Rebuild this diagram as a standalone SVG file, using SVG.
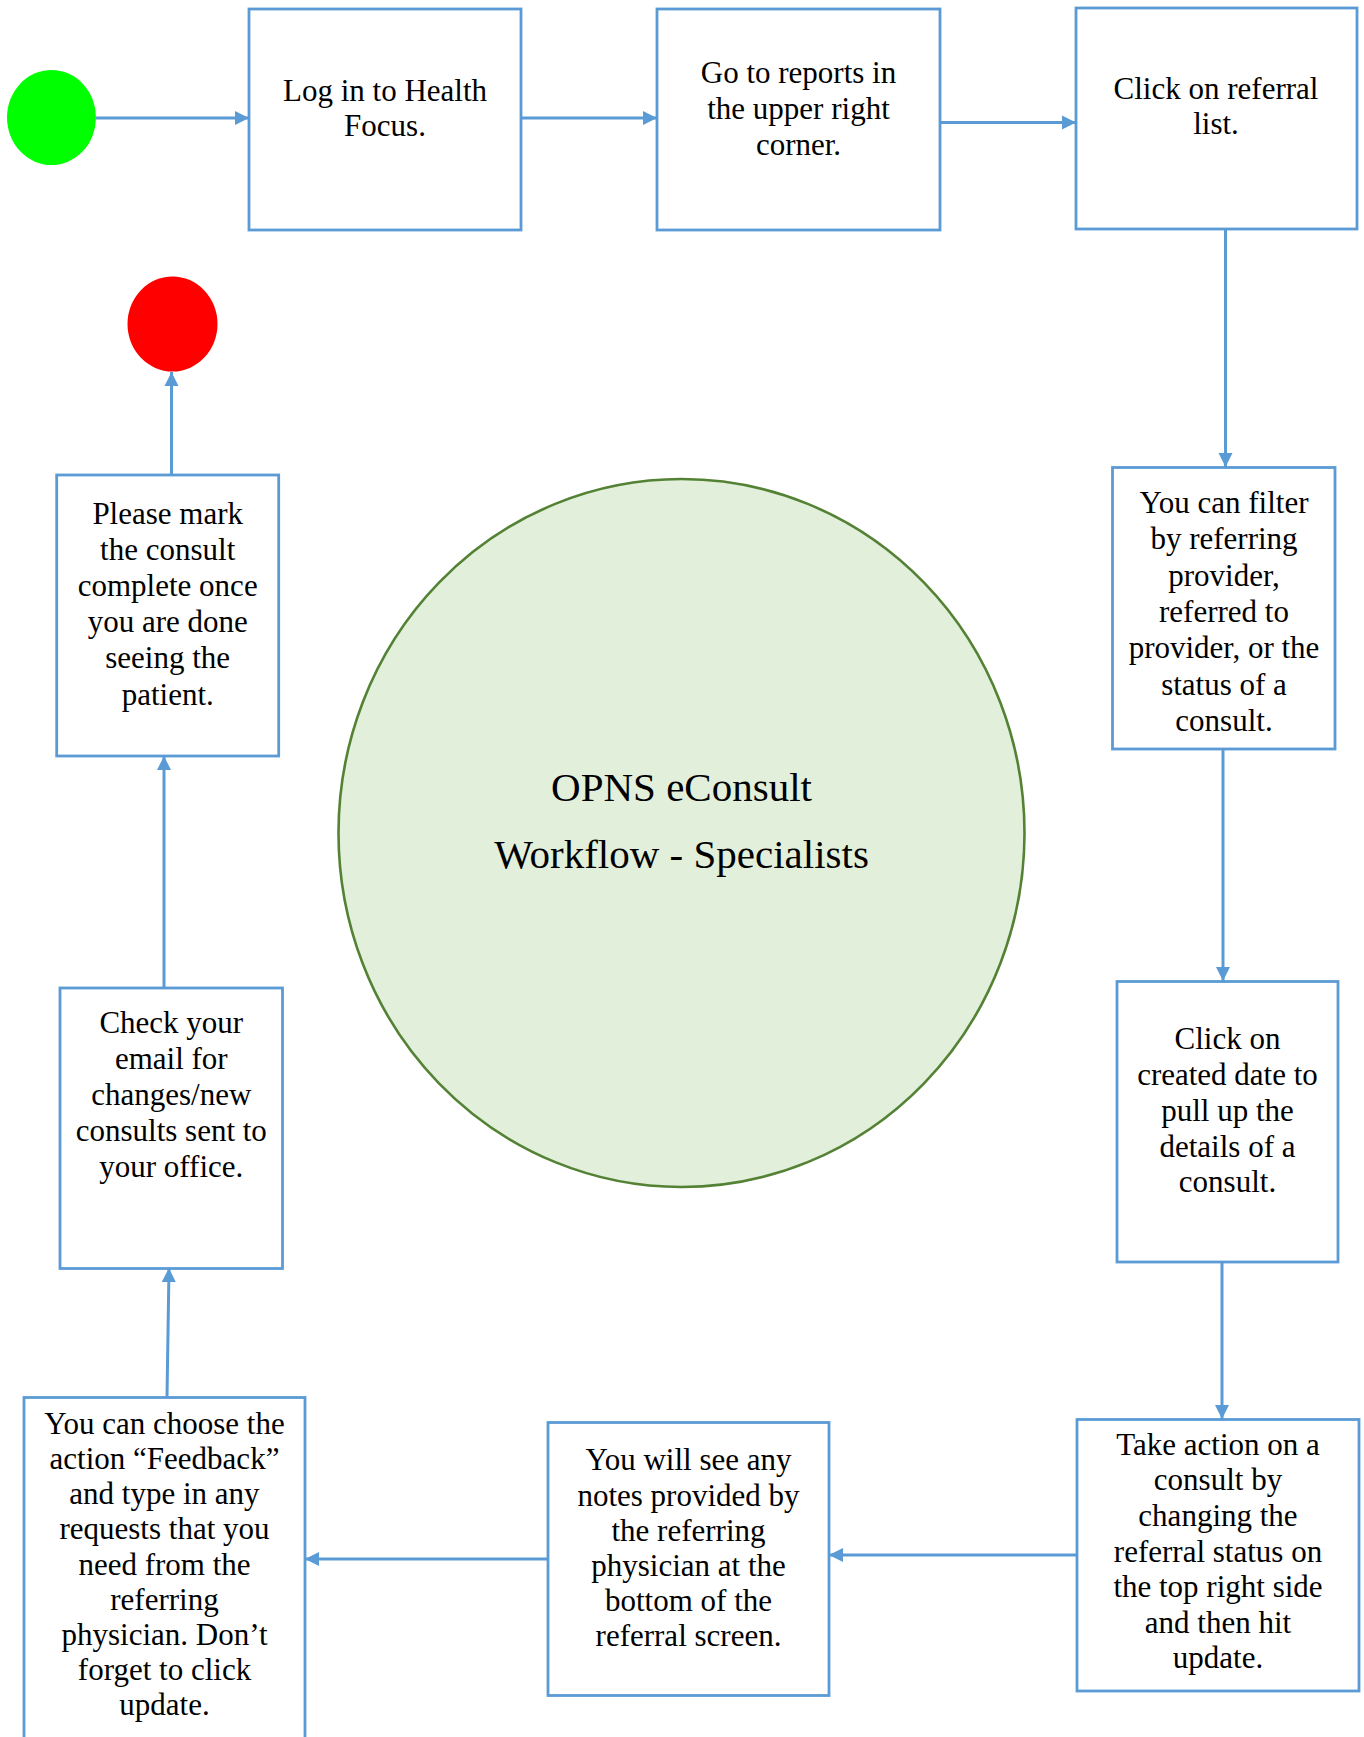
<svg xmlns="http://www.w3.org/2000/svg" width="1364" height="1737" viewBox="0 0 1364 1737">
<style>
.box{fill:#ffffff;stroke:#5b9bd5;stroke-width:2.8}
.t{font-family:"Liberation Serif","Times New Roman",serif;font-size:31px;fill:#000;text-anchor:middle}
.title{font-family:"Liberation Serif","Times New Roman",serif;font-size:41px;fill:#000;text-anchor:middle}
.c{fill:none;stroke:#5b9bd5;stroke-width:3;marker-end:url(#ah)}
</style>
<defs>
<marker id="ah" viewBox="0 0 10 10" refX="10" refY="5" markerWidth="4.8" markerHeight="5" orient="auto" markerUnits="strokeWidth">
<path d="M0,0 L10,5 L0,10 Z" fill="#5b9bd5"/>
</marker>
</defs>
<rect width="1364" height="1737" fill="#ffffff"/>

<g id="center">
<ellipse cx="681.5" cy="833" rx="343" ry="354" fill="#e2efda" stroke="#548235" stroke-width="2.6"/>
<text class="title" x="681.5" y="801">OPNS eConsult</text>
<text class="title" x="681.5" y="868">Workflow - Specialists</text>
</g>

<g id="connectors">
<line class="c" x1="96" y1="118" x2="249" y2="118"/>
<line class="c" x1="521" y1="118" x2="657" y2="118"/>
<line class="c" x1="940" y1="122.5" x2="1076" y2="122.5"/>
<line class="c" x1="1225.5" y1="229" x2="1225.5" y2="467"/>
<line class="c" x1="1223" y1="749" x2="1223" y2="981"/>
<line class="c" x1="1222" y1="1262" x2="1222" y2="1419"/>
<line class="c" x1="1077" y1="1555" x2="829" y2="1555"/>
<line class="c" x1="548" y1="1559" x2="305" y2="1559"/>
<line class="c" x1="167" y1="1397" x2="169" y2="1268"/>
<line class="c" x1="164" y1="988" x2="164" y2="756"/>
<line class="c" x1="171.5" y1="475" x2="171.5" y2="372"/>
</g>

<g id="start"><ellipse cx="51.5" cy="117.5" rx="44.5" ry="47.5" fill="#00ff00"/></g>
<g id="end"><ellipse cx="172.5" cy="324" rx="45" ry="47.5" fill="#ff0000"/></g>

<g id="n1">
<rect class="box" x="249" y="9" width="272" height="221"/>
<text class="t" x="385" y="101">Log in to Health</text>
<text class="t" x="385" y="136">Focus.</text>
</g>

<g id="n2">
<rect class="box" x="657" y="9" width="283" height="221"/>
<text class="t" x="798.5" y="83">Go to reports in</text>
<text class="t" x="798.5" y="119">the upper right</text>
<text class="t" x="798.5" y="155">corner.</text>
</g>

<g id="n3">
<rect class="box" x="1076" y="8" width="281" height="221"/>
<text class="t" x="1216" y="99">Click on referral</text>
<text class="t" x="1216" y="134">list.</text>
</g>

<g id="n4">
<rect class="box" x="1112.5" y="467.5" width="222.5" height="281.5"/>
<text class="t" x="1224" y="513">You can filter</text>
<text class="t" x="1224" y="549">by referring</text>
<text class="t" x="1224" y="585.5">provider,</text>
<text class="t" x="1224" y="622">referred to</text>
<text class="t" x="1224" y="658">provider, or the</text>
<text class="t" x="1224" y="694.5">status of a</text>
<text class="t" x="1224" y="730.5">consult.</text>
</g>

<g id="n5">
<rect class="box" x="1117" y="981.5" width="221" height="280.5"/>
<text class="t" x="1227.5" y="1048.5">Click on</text>
<text class="t" x="1227.5" y="1084.5">created date to</text>
<text class="t" x="1227.5" y="1120.5">pull up the</text>
<text class="t" x="1227.5" y="1156.5">details of a</text>
<text class="t" x="1227.5" y="1192">consult.</text>
</g>

<g id="n6">
<rect class="box" x="1077" y="1419.5" width="282" height="271.5"/>
<text class="t" x="1218" y="1454.5">Take action on a</text>
<text class="t" x="1218" y="1490">consult by</text>
<text class="t" x="1218" y="1526">changing the</text>
<text class="t" x="1218" y="1561.5">referral status on</text>
<text class="t" x="1218" y="1597">the top right side</text>
<text class="t" x="1218" y="1632.5">and then hit</text>
<text class="t" x="1218" y="1668">update.</text>
</g>

<g id="n7">
<rect class="box" x="548" y="1422.5" width="281" height="273"/>
<text class="t" x="688.5" y="1470">You will see any</text>
<text class="t" x="688.5" y="1505.5">notes provided by</text>
<text class="t" x="688.5" y="1540.5">the referring</text>
<text class="t" x="688.5" y="1575.5">physician at the</text>
<text class="t" x="688.5" y="1610.5">bottom of the</text>
<text class="t" x="688.5" y="1646">referral screen.</text>
</g>

<g id="n8">
<rect class="box" x="24" y="1397.5" width="281" height="360"/>
<text class="t" x="164.5" y="1433.5">You can choose the</text>
<text class="t" x="164.5" y="1468.5">action “Feedback”</text>
<text class="t" x="164.5" y="1503.5">and type in any</text>
<text class="t" x="164.5" y="1539">requests that you</text>
<text class="t" x="164.5" y="1574.5">need from the</text>
<text class="t" x="164.5" y="1610">referring</text>
<text class="t" x="164.5" y="1645">physician. Don’t</text>
<text class="t" x="164.5" y="1680">forget to click</text>
<text class="t" x="164.5" y="1715">update.</text>
</g>

<g id="n9">
<rect class="box" x="60" y="988" width="222.5" height="280.5"/>
<text class="t" x="171.3" y="1033">Check your</text>
<text class="t" x="171.3" y="1069">email for</text>
<text class="t" x="171.3" y="1105">changes/new</text>
<text class="t" x="171.3" y="1141">consults sent to</text>
<text class="t" x="171.3" y="1177">your office.</text>
</g>

<g id="n10">
<rect class="box" x="56.7" y="475" width="222" height="281"/>
<text class="t" x="167.7" y="523.5">Please mark</text>
<text class="t" x="167.7" y="559.5">the consult</text>
<text class="t" x="167.7" y="595.5">complete once</text>
<text class="t" x="167.7" y="631.5">you are done</text>
<text class="t" x="167.7" y="668">seeing the</text>
<text class="t" x="167.7" y="704.5">patient.</text>
</g>
</svg>
